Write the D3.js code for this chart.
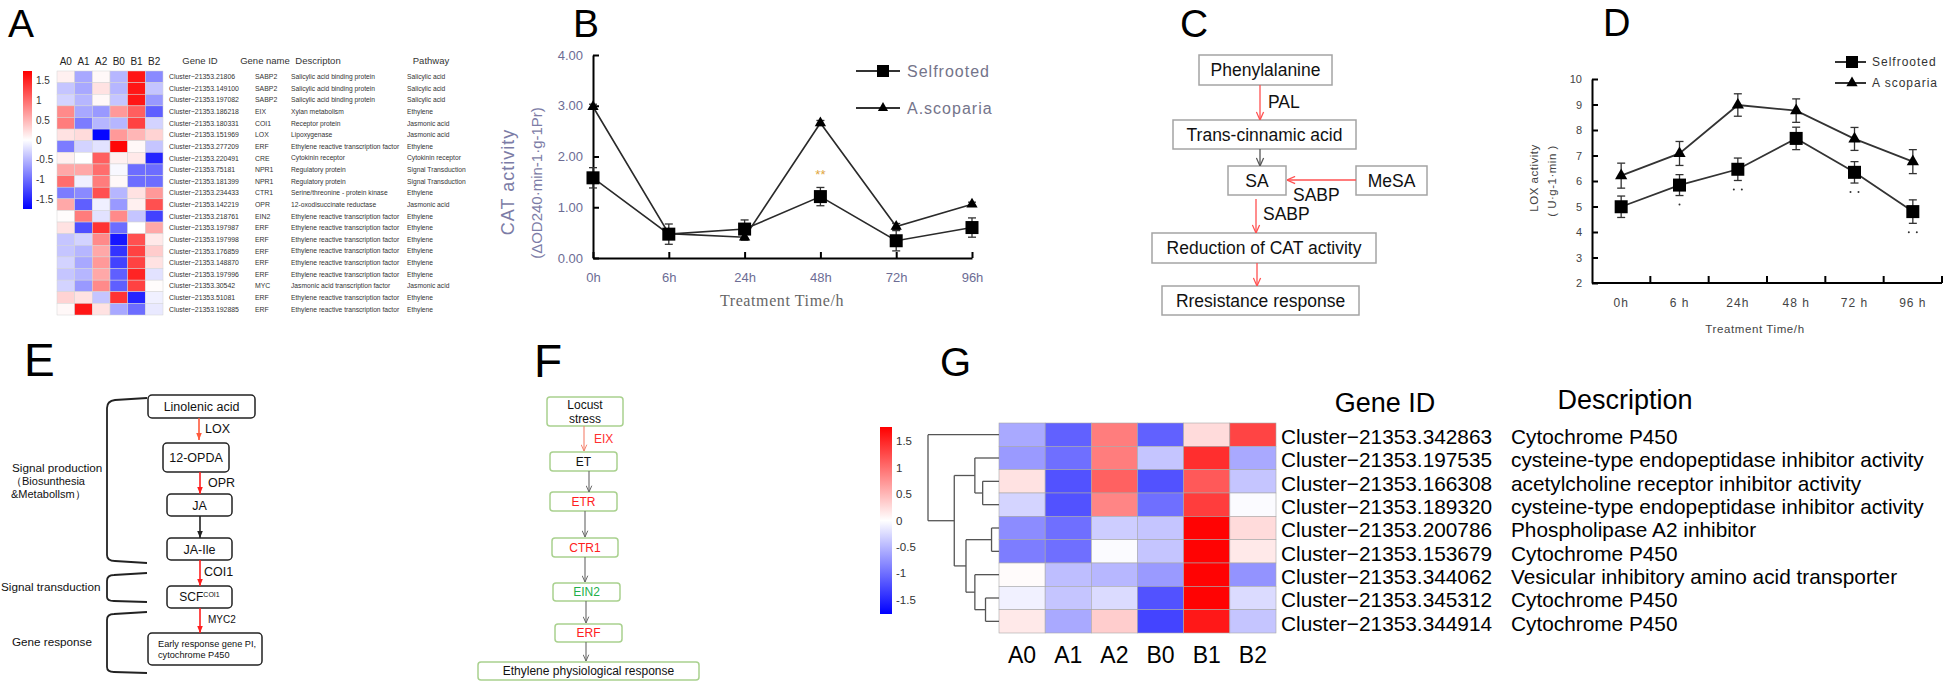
<!DOCTYPE html>
<html><head><meta charset="utf-8">
<script src="https://cdn.jsdelivr.net/npm/d3@7"></script>
<style>body{margin:0;background:#fff}svg{display:block}</style>
</head><body>
<svg id="fig" width="1946" height="683"></svg>
<script>
// ================= DATA =================
const panelLetters = ["A","B","C","D","E","F","G"];
const heatCols = ["A0","A1","A2","B0","B1","B2"];
const legendTicks = [1.5,1,0.5,0,-0.5,-1,-1.5];

// Panel A
const aGeneIds = ["21806","149100","197082","186218","180331","151969","277209","220491","75181","181399","234433","142219","218761","197987","197998","176859","148870","197996","30542","51081","192885"];
const aGeneNames = ["SABP2","SABP2","SABP2","EIX","COI1","LOX","ERF","CRE","NPR1","NPR1","CTR1","OPR","EIN2","ERF","ERF","ERF","ERF","ERF","MYC","ERF","ERF"];
const aDescriptions = ["Salicylic acid binding protein","Salicylic acid binding protein","Salicylic acid binding protein","Xylan metabolism","Receptor protein","Lipoxygenase","Ethylene reactive transcription factor","Cytokinin receptor","Regulatory protein","Regulatory protein","Serine/threonine - protein kinase","12-oxodisuccinate reductase","Ethylene reactive transcription factor","Ethylene reactive transcription factor","Ethylene reactive transcription factor","Ethylene reactive transcription factor","Ethylene reactive transcription factor","Ethylene reactive transcription factor","Jasmonic acid  transcription factor","Ethylene reactive transcription factor","Ethylene reactive transcription factor"];
const aPathways = ["Salicylic acid","Salicylic acid","Salicylic acid","Ethylene","Jasmonic acid","Jasmonic acid","Ethylene","Cytokinin receptor","Signal Transduction","Signal Transduction","Ethylene","Jasmonic acid","Ethylene","Ethylene","Ethylene","Ethylene","Ethylene","Ethylene","Jasmonic acid","Ethylene","Ethylene"];
const aHeaders = ["Gene ID","Gene name","Descripton","Pathway"];
const aValues = [
 [0.1,-0.6,0.05,-0.5,1.6,-0.8],
 [-0.4,-0.6,0.2,-0.5,1.6,-0.4],
 [-0.3,-0.5,0.05,-0.4,1.6,-0.7],
 [0.8,-0.6,-0.7,0.7,1.1,-1.1],
 [0.9,-0.9,-0.5,-0.5,1.3,-0.3],
 [0.2,0.25,-1.7,0.7,0.5,0.3],
 [-0.9,-0.3,-0.2,1.7,0.05,-0.4],
 [0.1,0.0,1.1,0.1,0.15,-1.5],
 [0.6,0.6,1.0,-0.05,-1.0,-1.0],
 [1.0,-0.1,0.9,0.05,-1.0,-1.0],
 [-0.9,-0.8,1.2,-0.5,0.2,0.7],
 [0.6,-1.1,-0.1,-0.7,0.1,1.2],
 [0.02,0.9,-0.2,0.8,-0.4,-1.3],
 [0.2,-1.2,1.4,-1.0,0.0,0.6],
 [-0.4,-0.3,0.8,-1.6,1.2,0.15],
 [-0.4,-0.5,0.6,-1.4,1.3,0.35],
 [-0.3,-0.6,0.7,-1.3,1.3,0.2],
 [-0.4,-0.5,0.6,-1.1,1.5,-0.2],
 [-0.3,-0.7,0.8,-1.1,1.3,0.02],
 [0.3,0.2,-0.4,1.4,-1.5,-0.1],
 [0.05,1.6,0.2,-0.6,-1.0,-0.15]
];

// Panel B (CAT activity)
const timeCats = ["0h","6h","24h","48h","72h","96h"];
const catTicks = [0,1,2,3,4];
const catSelf = [1.58,0.47,0.57,1.21,0.34,0.60];
const catSelfErr = [0.2,0.2,0.18,0.18,0.2,0.19];
const catSco = [2.98,0.48,0.41,2.66,0.62,1.06];
const catScoErr = [0.05,0.08,0.06,0.05,0.06,0.04];
const catSig = ["","","","**","",""];
const seriesNames = ["Selfrooted","A.scoparia"];

// Panel D (LOX activity)
const loxCats = ["0h","6 h","24h","48 h","72 h","96 h"];
const loxTicks = [2,3,4,5,6,7,8,9,10];
const loxSelf = [4.99,5.84,6.46,7.67,6.34,4.80];
const loxSelfErr = [0.42,0.41,0.44,0.44,0.42,0.46];
const loxSco = [6.21,7.08,8.98,8.76,7.65,6.76];
const loxScoErr = [0.49,0.47,0.44,0.46,0.45,0.47];
const loxSigDots = [0,1,2,0,2,2];

// Panel C
const cNodes = ["Phenylalanine","Trans-cinnamic acid","SA","MeSA","Reduction of CAT activity","Rresistance response"];
const cEdgeLabels = ["PAL","SABP","SABP"];

// Panel E
const eNodes = ["Linolenic acid","12-OPDA","JA","JA-Ile","SCF","Early response gene PI,|cytochrome P450"];
const eEnzymes = ["LOX","OPR","","COI1","MYC2"];
const eStages = ["Signal production","Signal transduction","Gene response"];

// Panel F
const fNodes = ["Locust|stress","ET","ETR","CTR1","EIN2","ERF","Ethylene physiological response"];
const fNodeState = ["none","none","up","up","down","up","none"];

// Panel G
const gGeneIds = ["342863","197535","166308","189320","200786","153679","344062","345312","344914"];
const gDescriptions = ["Cytochrome P450","cysteine-type endopeptidase inhibitor activity","acetylcholine receptor inhibitor activity","cysteine-type endopeptidase inhibitor activity","Phospholipase A2 inhibitor","Cytochrome P450","Vesicular inhibitory amino acid transporter","Cytochrome P450","Cytochrome P450"];
const gValues = [
 [-0.6,-1.1,0.9,-1.1,0.25,1.3],
 [-0.7,-1.0,0.9,-0.4,1.45,-0.6],
 [0.2,-1.2,1.1,-1.2,1.15,-0.4],
 [-0.3,-1.2,0.85,-1.0,1.35,-0.03],
 [-0.8,-1.0,-0.35,-0.4,1.75,0.25],
 [-0.9,-1.0,-0.03,-0.4,1.75,0.15],
 [0.03,-0.45,-0.5,-0.7,1.75,-0.75],
 [-0.1,-0.4,-0.25,-1.2,1.75,-0.25],
 [0.15,-0.6,0.35,-1.3,1.6,-0.4]
];
const gTree = {h:1,c:[{leaf:0},{h:0.63,c:[{h:0.34,c:[{leaf:1},{h:0.23,c:[{leaf:2},{leaf:3}]}]},{h:0.465,c:[{h:0.105,c:[{leaf:4},{leaf:5}]},{h:0.34,c:[{leaf:6},{h:0.19,c:[{leaf:7},{leaf:8}]}]}]}]}]};

// ================= DRAWING =================
const SANS = "'Liberation Sans', Arial, sans-serif";
const svg = d3.select("#fig");
svg.append("rect").attr("width",1946).attr("height",683).attr("fill","#fff");
const defs = svg.append("defs");

function marker(id, color, filled, size){
  defs.append("marker").attr("id",id).attr("viewBox","0 0 10 10").attr("refX",10).attr("refY",5)
    .attr("markerWidth",size).attr("markerHeight",size).attr("markerUnits","userSpaceOnUse").attr("orient","auto")
    .append("path").attr("d", filled ? "M0,1 L10,5 L0,9 Z" : "M1,1 L10,5 L1,9")
    .attr("fill", filled ? color : "none").attr("stroke", color).attr("stroke-width", filled ? 0 : 1.4);
}
marker("cRed","#ff5050",false,9);
marker("cGray","#555",false,9);
marker("eRed","#ff1e1e",true,7);
marker("eOrange","#ff5a3c",true,7);
marker("eBlack","#222",true,7);
marker("fGray","#666",false,7);
marker("fSalmon","#f4806c",false,7);

function arrow(g,x1,y1,x2,y2,color,mk,w){
  g.append("line").attr("x1",x1).attr("y1",y1).attr("x2",x2).attr("y2",y2)
   .attr("stroke",color).attr("stroke-width",w||1.3).attr("marker-end",`url(#${mk})`);
}
function gradient(id){
  const lg = defs.append("linearGradient").attr("id",id).attr("x1",0).attr("y1",0).attr("x2",0).attr("y2",1);
  lg.append("stop").attr("offset","0%").attr("stop-color","#ff0000");
  lg.append("stop").attr("offset","50%").attr("stop-color","#ffffff");
  lg.append("stop").attr("offset","100%").attr("stop-color","#0000ff");
}
gradient("gradA"); gradient("gradG");

// Panel letters
const letterPos = [[8,37,39],[573,37,39],[1180,37,39],[1603,36,38],[24,376,46],[534,377,46],[940,376,40]];
svg.selectAll("text.letter").data(panelLetters).join("text").attr("class","letter")
  .attr("x",(d,i)=>letterPos[i][0]).attr("y",(d,i)=>letterPos[i][1])
  .attr("font-family",SANS).attr("font-size",(d,i)=>letterPos[i][2]).attr("fill","#000").text(d=>d);

// ---------- Panel A ----------
(function(){
  const g = svg.append("g");
  const vmax = 1.75;
  const color = d3.scaleLinear().domain([-vmax,0,vmax]).range(["#0000ff","#ffffff","#ff0000"]);
  const x = d3.scaleBand().domain(heatCols).range([57,163]);
  const y = d3.scaleBand().domain(d3.range(aValues.length)).range([71,315]);
  aValues.forEach((row,i)=>{
    g.selectAll(null).data(row).join("rect")
      .attr("x",(d,j)=>x(heatCols[j])).attr("y",y(i)).attr("width",x.bandwidth()).attr("height",y.bandwidth())
      .attr("fill",d=>color(d)).attr("stroke","#d4d4d4").attr("stroke-width",0.5);
  });
  g.selectAll(null).data(heatCols).join("text").attr("x",d=>x(d)+x.bandwidth()/2).attr("y",65)
    .attr("text-anchor","middle").attr("font-family",SANS).attr("font-size",10).attr("fill","#222").text(d=>d);
  const cb = d3.scaleLinear().domain([-vmax,vmax]).range([209,71]);
  g.append("rect").attr("x",23).attr("y",71).attr("width",9).attr("height",138).attr("fill","url(#gradA)");
  g.selectAll(null).data(legendTicks).join("text").attr("x",36).attr("y",d=>cb(d)).attr("dy","0.35em")
    .attr("font-family",SANS).attr("font-size",10).attr("fill","#333").text(d=>d);
  const cy = i => y(i)+y.bandwidth()/2;
  const cols = [[169,aGeneIds.map(d=>"Cluster\u221221353."+d),6.9],[255,aGeneNames,6.9],[291,aDescriptions,6.7],[407,aPathways,6.7]];
  cols.forEach(([cx,arr,fs])=>{
    g.selectAll(null).data(arr).join("text").attr("x",cx).attr("y",(d,i)=>cy(i)).attr("dy","0.35em")
      .attr("font-family",SANS).attr("font-size",fs).attr("fill","#333").text(d=>d);
  });
  const hx = [200,265,318,431];
  g.selectAll(null).data(aHeaders).join("text").attr("x",(d,i)=>hx[i]).attr("y",64).attr("text-anchor","middle")
    .attr("font-family",SANS).attr("font-size",9.5).attr("fill","#333").text(d=>d);
})();

// ---------- Panel B ----------
(function(){
  const g = svg.append("g");
  const x = d3.scalePoint().domain(timeCats).range([593,972]);
  const y = d3.scaleLinear().domain([0,4]).range([258,55]);
  const tc = "#6c6c94";
  const ya = g.append("g").attr("transform","translate(593,0)")
    .call(d3.axisLeft(y).tickValues(catTicks).tickFormat(d3.format(".2f")).tickSize(-6).tickSizeOuter(0).tickPadding(10));
  const xa = g.append("g").attr("transform","translate(0,258)")
    .call(d3.axisBottom(x).tickSize(-6).tickSizeOuter(0).tickPadding(15));
  [ya,xa].forEach(a=>{
    a.select(".domain").attr("stroke","#000").attr("stroke-width",2);
    a.selectAll(".tick line").attr("stroke","#000").attr("stroke-width",2);
    a.selectAll(".tick text").attr("fill",tc).attr("font-family",SANS).attr("font-size",13);
  });
  g.append("text").attr("transform","translate(508,182) rotate(-90)").attr("text-anchor","middle").attr("dy","0.35em")
    .attr("font-family",SANS).attr("font-size",18).attr("letter-spacing",1).attr("fill","#7c7ca6").text("CAT activity");
  g.append("text").attr("transform","translate(537,183) rotate(-90)").attr("text-anchor","middle").attr("dy","0.35em")
    .attr("font-family",SANS).attr("font-size",15).attr("fill","#7c7ca6").text("(\u0394OD240\u00b7min-1\u00b7g-1Pr)");
  g.append("text").attr("x",782).attr("y",306).attr("text-anchor","middle").attr("font-family","'Liberation Serif', serif")
    .attr("font-size",16).attr("letter-spacing",0.6).attr("fill","#666").text("Treatment Time/h");
  const line = d3.line().x((d,i)=>x(timeCats[i])).y(d=>y(d));
  [[catSco,catScoErr],[catSelf,catSelfErr]].forEach(([vals,errs])=>{
    g.append("path").attr("d",line(vals)).attr("fill","none").attr("stroke","#2a2a2a").attr("stroke-width",1.6);
    vals.forEach((v,i)=>{
      const cx = x(timeCats[i]);
      g.append("line").attr("x1",cx).attr("x2",cx).attr("y1",y(v-errs[i])).attr("y2",y(v+errs[i])).attr("stroke","#333").attr("stroke-width",1.3);
      [v-errs[i],v+errs[i]].forEach(e=>g.append("line").attr("x1",cx-4).attr("x2",cx+4).attr("y1",y(e)).attr("y2",y(e)).attr("stroke","#333").attr("stroke-width",1.3));
    });
  });
  g.selectAll(null).data(catSco).join("path").attr("transform",(d,i)=>`translate(${x(timeCats[i])},${y(d)})`)
    .attr("d",d3.symbol().type(d3.symbolTriangle).size(55)).attr("fill","#000");
  g.selectAll(null).data(catSelf).join("rect").attr("x",(d,i)=>x(timeCats[i])-6.5).attr("y",d=>y(d)-6.5)
    .attr("width",13).attr("height",13).attr("fill","#000");
  g.selectAll(null).data(catSig).join("text").attr("x",(d,i)=>x(timeCats[i])).attr("y",(d,i)=>y(catSelf[i]+catSelfErr[i])-8)
    .attr("text-anchor","middle").attr("font-family",SANS).attr("font-size",13).attr("fill","#e0a640").text(d=>d);
  const ly = [71,108];
  seriesNames.forEach((n,i)=>{
    g.append("line").attr("x1",856).attr("x2",900).attr("y1",ly[i]).attr("y2",ly[i]).attr("stroke","#333").attr("stroke-width",2);
    if(i===0) g.append("rect").attr("x",877).attr("y",ly[i]-6).attr("width",12).attr("height",12).attr("fill","#000");
    else g.append("path").attr("transform",`translate(883,${ly[i]})`).attr("d",d3.symbol().type(d3.symbolTriangle).size(45)).attr("fill","#000");
    g.append("text").attr("x",907).attr("y",ly[i]).attr("dy","0.35em").attr("font-family",SANS).attr("font-size",16)
      .attr("letter-spacing",1).attr("fill","#74748a").text(n);
  });
})();

// ---------- Panel C ----------
(function(){
  const g = svg.append("g");
  const boxes = [[1199,55,133,30],[1173,120,183,29],[1228,166,58,29],[1356,166,71,29],[1152,233,224,30],[1162,286,197,29]];
  cNodes.forEach((t,i)=>{
    const [bx,by,bw,bh] = boxes[i];
    g.append("rect").attr("x",bx).attr("y",by).attr("width",bw).attr("height",bh).attr("fill","#fff").attr("stroke","#a4a4a4").attr("stroke-width",1.5);
    g.append("text").attr("x",bx+bw/2).attr("y",by+bh/2).attr("dy","0.36em").attr("text-anchor","middle")
      .attr("font-family",SANS).attr("font-size",17.5).attr("fill","#111").text(t);
  });
  arrow(g,1260,85,1260,120,"#ff5050","cRed",1.3);
  arrow(g,1260,149,1260,166,"#555","cGray",1.3);
  arrow(g,1356,180,1287,180,"#ff5050","cRed",1.3);
  arrow(g,1256,199,1256,233,"#ff5050","cRed",1.3);
  arrow(g,1257,263,1257,286,"#ff5050","cRed",1.3);
  const lp = [[1268,108],[1293,201],[1263,220]];
  g.selectAll(null).data(cEdgeLabels).join("text").attr("x",(d,i)=>lp[i][0]).attr("y",(d,i)=>lp[i][1])
    .attr("font-family",SANS).attr("font-size",17.5).attr("fill","#111").text(d=>d);
})();

// ---------- Panel D ----------
(function(){
  const g = svg.append("g");
  const x = d3.scaleBand().domain(loxCats).range([1592,1942]);
  const y = d3.scaleLinear().domain([2,10]).range([283,79]);
  const cx = c => x(c)+x.bandwidth()/2;
  const ya = g.append("g").attr("transform","translate(1592,0)")
    .call(d3.axisLeft(y).tickValues(loxTicks).tickSize(-6).tickSizeOuter(0).tickPadding(10));
  ya.select(".domain").attr("stroke","#000").attr("stroke-width",2);
  ya.selectAll(".tick line").attr("stroke","#000").attr("stroke-width",2);
  ya.selectAll(".tick text").attr("fill","#444").attr("font-family",SANS).attr("font-size",11);
  g.append("line").attr("x1",1592).attr("x2",1942).attr("y1",283).attr("y2",283).attr("stroke","#000").attr("stroke-width",2);
  g.selectAll(null).data(loxCats).join("line").attr("x1",d=>x(d)+x.bandwidth()).attr("x2",d=>x(d)+x.bandwidth())
    .attr("y1",283).attr("y2",276).attr("stroke","#000").attr("stroke-width",2);
  g.selectAll(null).data(loxCats).join("text").attr("x",cx).attr("y",307).attr("text-anchor","middle")
    .attr("font-family",SANS).attr("font-size",12).attr("letter-spacing",1).attr("fill","#444").text(d=>d);
  g.append("text").attr("x",1755).attr("y",333).attr("text-anchor","middle").attr("font-family",SANS).attr("font-size",11.5)
    .attr("letter-spacing",0.6).attr("fill","#444").text("Treatment Time/h");
  g.append("text").attr("transform","translate(1534,178) rotate(-90)").attr("text-anchor","middle").attr("dy","0.35em")
    .attr("font-family",SANS).attr("font-size",11.5).attr("letter-spacing",0.5).attr("fill","#444").text("LOX activity");
  g.append("text").attr("transform","translate(1552,181) rotate(-90)").attr("text-anchor","middle").attr("dy","0.35em")
    .attr("font-family",SANS).attr("font-size",11.5).attr("letter-spacing",0.5).attr("fill","#444").text("( U\u00b7g-1\u00b7min )");
  const line = d3.line().x((d,i)=>cx(loxCats[i])).y(d=>y(d));
  [[loxSco,loxScoErr],[loxSelf,loxSelfErr]].forEach(([vals,errs])=>{
    g.append("path").attr("d",line(vals)).attr("fill","none").attr("stroke","#333").attr("stroke-width",1.8);
    vals.forEach((v,i)=>{
      const px = cx(loxCats[i]);
      g.append("line").attr("x1",px).attr("x2",px).attr("y1",y(v-errs[i])).attr("y2",y(v+errs[i])).attr("stroke","#333").attr("stroke-width",1.3);
      [v-errs[i],v+errs[i]].forEach(e=>g.append("line").attr("x1",px-4).attr("x2",px+4).attr("y1",y(e)).attr("y2",y(e)).attr("stroke","#333").attr("stroke-width",1.3));
    });
  });
  g.selectAll(null).data(loxSco).join("path").attr("transform",(d,i)=>`translate(${cx(loxCats[i])},${y(d)})`)
    .attr("d",d3.symbol().type(d3.symbolTriangle).size(65)).attr("fill","#000");
  g.selectAll(null).data(loxSelf).join("rect").attr("x",(d,i)=>cx(loxCats[i])-6.5).attr("y",d=>y(d)-6.5)
    .attr("width",13).attr("height",13).attr("fill","#000");
  loxSigDots.forEach((n,i)=>{
    const yy = y(loxSelf[i]-loxSelfErr[i])+9;
    d3.range(n).forEach(k=>g.append("circle").attr("cx",cx(loxCats[i])+(n===1?0:(k===0?-4:4))).attr("cy",yy).attr("r",1).attr("fill","#333"));
  });
  const ly = [62,83];
  seriesNames.forEach((n,i)=>{
    g.append("line").attr("x1",1835).attr("x2",1866).attr("y1",ly[i]).attr("y2",ly[i]).attr("stroke","#333").attr("stroke-width",2);
    if(i===0) g.append("rect").attr("x",1846).attr("y",ly[i]-6).attr("width",12).attr("height",12).attr("fill","#000");
    else g.append("path").attr("transform",`translate(1852,${ly[i]})`).attr("d",d3.symbol().type(d3.symbolTriangle).size(55)).attr("fill","#000");
    g.append("text").attr("x",1872).attr("y",ly[i]).attr("dy","0.35em").attr("font-family",SANS).attr("font-size",12)
      .attr("letter-spacing",1).attr("fill","#333").text(i===1?"A scoparia":n);
  });
})();

// ---------- Panel E ----------
(function(){
  const g = svg.append("g");
  const boxes = [[148,395,107,23],[163,443,66,29],[167,494,65,22],[167,538,65,22],[167,586,65,22],[148,633,114,32]];
  eNodes.forEach((t,i)=>{
    const [bx,by,bw,bh] = boxes[i];
    g.append("rect").attr("x",bx).attr("y",by).attr("width",bw).attr("height",bh).attr("rx",4).attr("fill","#fff").attr("stroke","#222").attr("stroke-width",1.5);
    if(t.includes("|")){
      t.split("|").forEach((s,k)=>g.append("text").attr("x",bx+10).attr("y",by+14+k*11).attr("font-family",SANS).attr("font-size",9.2).attr("fill","#111").text(s));
    } else if(t==="SCF"){
      const tx = g.append("text").attr("x",bx+bw/2).attr("y",by+bh/2).attr("dy","0.36em").attr("text-anchor","middle").attr("font-family",SANS).attr("font-size",12).attr("fill","#111");
      tx.append("tspan").text("SCF");
      tx.append("tspan").attr("font-size",7).attr("dy","-0.6em").text("COI1");
    } else {
      g.append("text").attr("x",bx+bw/2).attr("y",by+bh/2).attr("dy","0.36em").attr("text-anchor","middle").attr("font-family",SANS).attr("font-size",12.5).attr("fill","#111").text(t);
    }
  });
  const arr = [[199,418,440,"#ff5a3c","eOrange"],[200,472,494,"#ff1e1e","eRed"],[200,516,538,"#222","eBlack"],[200,560,586,"#ff1e1e","eRed"],[200,608,633,"#ff1e1e","eRed"]];
  arr.forEach(a=>arrow(g,a[0],a[1],a[0],a[2],a[3],a[4],1.6));
  const lp = [[205,433,12.5],[208,487,12.5],[0,0,0],[204,576,12.5],[208,623,10]];
  eEnzymes.forEach((t,i)=>{ if(t) g.append("text").attr("x",lp[i][0]).attr("y",lp[i][1]).attr("font-family",SANS).attr("font-size",lp[i][2]).attr("fill","#111").text(t); });
  const brackets = ["M147,398 L115,400 Q107,401 107,408 L107,555 Q107,561 115,561 L147,563",
    "M147,573 L114,575 Q107,575 107,581 L107,597 Q107,601 114,601 L147,602",
    "M147,612 L114,614 Q107,614 107,620 L107,667 Q107,672 114,672 L147,673"];
  brackets.forEach(p=>g.append("path").attr("d",p).attr("fill","none").attr("stroke","#222").attr("stroke-width",1.8));
  const sp = [[12,472],[1,591],[12,646]];
  eStages.forEach((t,i)=>g.append("text").attr("x",sp[i][0]).attr("y",sp[i][1]).attr("font-family",SANS).attr("font-size",11.7).attr("fill","#111").text(t));
  g.append("text").attr("x",11).attr("y",485).attr("font-family",SANS).attr("font-size",11).attr("fill","#111").text("\uff08Biosunthesia");
  g.append("text").attr("x",11).attr("y",498).attr("font-family",SANS).attr("font-size",11).attr("fill","#111").text("&Metabollsm\uff09");
})();

// ---------- Panel F ----------
(function(){
  const g = svg.append("g");
  const boxes = [[547,397,76,29],[550,452,67,19],[550,492,67,19],[552,538,66,19],[553,583,67,18],[555,624,67,18],[478,662,221,18]];
  const stateColor = {none:"#111",up:"#ff2020",down:"#22b04a"};
  fNodes.forEach((t,i)=>{
    const [bx,by,bw,bh] = boxes[i];
    g.append("rect").attr("x",bx).attr("y",by).attr("width",bw).attr("height",bh).attr("rx",3).attr("fill","#fff").attr("stroke","#a9d18e").attr("stroke-width",1.5);
    const parts = t.split("|");
    parts.forEach((s,k)=>g.append("text").attr("x",bx+bw/2).attr("y",by+bh/2+(k-(parts.length-1)/2)*14).attr("dy","0.36em")
      .attr("text-anchor","middle").attr("font-family",SANS).attr("font-size",12).attr("fill",stateColor[fNodeState[i]]).text(s));
  });
  arrow(g,584,426,584,451,"#f4806c","fSalmon",1.1);
  const arr = [[589,471,492],[585,511,537],[585,557,582],[586,601,623],[586,642,661]];
  arr.forEach(a=>arrow(g,a[0],a[1],a[0],a[2],"#666","fGray",1.1));
  g.append("text").attr("x",594).attr("y",443).attr("font-family",SANS).attr("font-size",12).attr("fill","#ff3030").text("EIX");
})();

// ---------- Panel G ----------
(function(){
  const g = svg.append("g");
  const vmax = 1.77;
  const color = d3.scaleLinear().domain([-vmax,0,vmax]).range(["#0000ff","#ffffff","#ff0000"]);
  const x = d3.scaleBand().domain(heatCols).range([999,1276]);
  const y = d3.scaleBand().domain(d3.range(gValues.length)).range([423,633]);
  const cy = i => y(i)+y.bandwidth()/2;
  gValues.forEach((row,i)=>{
    g.selectAll(null).data(row).join("rect")
      .attr("x",(d,j)=>x(heatCols[j])).attr("y",y(i)).attr("width",x.bandwidth()).attr("height",y.bandwidth())
      .attr("fill",d=>color(d)).attr("stroke","#a8a8a8").attr("stroke-width",0.6);
  });
  g.selectAll(null).data(heatCols).join("text").attr("x",d=>x(d)+x.bandwidth()/2).attr("y",663).attr("text-anchor","middle")
    .attr("font-family",SANS).attr("font-size",23).attr("fill","#000").text(d=>d);
  g.selectAll(null).data(gGeneIds).join("text").attr("x",1281).attr("y",(d,i)=>cy(i)+2).attr("dy","0.35em")
    .attr("font-family",SANS).attr("font-size",20.8).attr("fill","#000").text(d=>"Cluster\u221221353."+d);
  g.selectAll(null).data(gDescriptions).join("text").attr("x",1511).attr("y",(d,i)=>cy(i)+2).attr("dy","0.35em")
    .attr("font-family",SANS).attr("font-size",20.8).attr("fill","#000").text(d=>d);
  g.append("text").attr("x",1385).attr("y",412).attr("text-anchor","middle").attr("font-family",SANS).attr("font-size",27).attr("fill","#000").text("Gene ID");
  g.append("text").attr("x",1625).attr("y",409).attr("text-anchor","middle").attr("font-family",SANS).attr("font-size",27).attr("fill","#000").text("Description");
  const cb = d3.scaleLinear().domain([-vmax,vmax]).range([614,427]);
  g.append("rect").attr("x",880).attr("y",427).attr("width",12).attr("height",187).attr("fill","url(#gradG)");
  g.selectAll(null).data(legendTicks).join("text").attr("x",896).attr("y",d=>cb(d)).attr("dy","0.35em")
    .attr("font-family",SANS).attr("font-size",11.5).attr("fill","#333").text(d=>d);
  const dx = d3.scaleLinear().domain([0,1]).range([999,928]);
  function layout(n){
    if(n.leaf!==undefined){ n.y = cy(n.leaf); n.hh = 0; return n; }
    n.c.forEach(layout); n.hh = n.h; n.y = (n.c[0].y+n.c[n.c.length-1].y)/2; return n;
  }
  layout(gTree);
  (function draw(n){
    if(n.leaf!==undefined) return;
    g.append("line").attr("x1",dx(n.hh)).attr("x2",dx(n.hh)).attr("y1",n.c[0].y).attr("y2",n.c[n.c.length-1].y).attr("stroke","#555").attr("stroke-width",1.3);
    n.c.forEach(ch=>{
      g.append("line").attr("x1",dx(n.hh)).attr("x2",dx(ch.hh)).attr("y1",ch.y).attr("y2",ch.y).attr("stroke","#555").attr("stroke-width",1.3);
      draw(ch);
    });
  })(gTree);
})();
</script>
</body></html>
